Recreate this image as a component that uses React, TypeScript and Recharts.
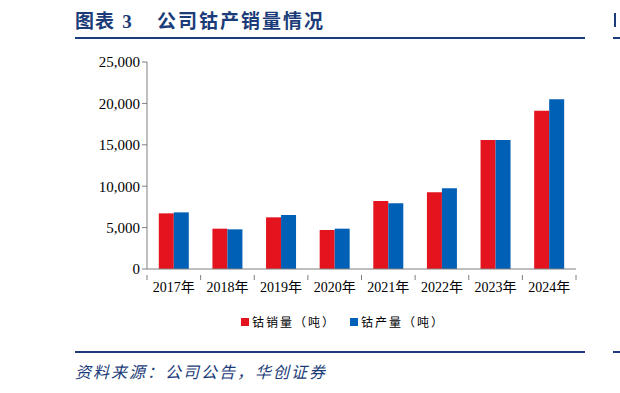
import React from 'react';
import { BarChart, Bar, XAxis, YAxis } from 'recharts';

const years = ['2017年', '2018年', '2019年', '2020年', '2021年', '2022年', '2023年', '2024年'];
const sales = [6720, 4870, 6240, 4710, 8210, 9260, 15580, 19120];
const output = [6840, 4790, 6520, 4870, 7930, 9740, 15580, 20490];
const yTicks = [0, 5000, 10000, 15000, 20000, 25000];

const data = years.map((year, i) => ({ year, sales: sales[i], output: output[i] }));

const navy = '#1b3c78';
const red = '#e3141e';
const blue = '#0060b5';
const axisGrey = '#7f7f7f';
const serif = '"Liberation Serif", "Times New Roman", "Noto Sans CJK SC", serif';
const cjk = '"Noto Sans CJK SC", sans-serif';

const fmt = (v: number) => v.toLocaleString('en-US');

// category label plus tick marks on the category boundaries
const YearTick = (props: any) => {
  const { x, y, payload, index, visibleTicksCount } = props;
  const half = payload.offset || 0;
  const last = index === visibleTicksCount - 1;
  return (
    <g>
      <line x1={x - half} x2={x - half} y1={y - 8} y2={y - 3} stroke={axisGrey} />
      {last && <line x1={x + half} x2={x + half} y1={y - 8} y2={y - 3} stroke={axisGrey} />}
      <text x={x} y={y + 9} textAnchor="middle" fontFamily={serif} fontSize={14} fill="#000">
        {payload.value}
      </text>
    </g>
  );
};

const App = () => {
  return (
    <div style={{ position: 'absolute', left: 0, top: 0, width: 620, height: 393, background: '#fff', overflow: 'hidden' }}>
      <div
        style={{
          position: 'absolute',
          left: 75,
          top: 6,
          fontFamily: cjk,
          fontWeight: 700,
          fontSize: 19,
          color: navy,
          whiteSpace: 'nowrap',
          letterSpacing: 1,
        }}
      >
        图表 <span style={{ fontFamily: serif, marginLeft: 2 }}>3</span>
      </div>
      <div
        style={{
          position: 'absolute',
          left: 157,
          top: 6,
          fontFamily: cjk,
          fontWeight: 700,
          fontSize: 19,
          color: navy,
          whiteSpace: 'nowrap',
          letterSpacing: 2,
        }}
      >
        公司钴产销量情况
      </div>
      <div style={{ position: 'absolute', left: 75, top: 37, width: 510, height: 2, background: navy }} />
      <div style={{ position: 'absolute', left: 613, top: 37, width: 7, height: 2, background: navy }} />
      <div style={{ position: 'absolute', left: 614, top: 13, width: 2, height: 14, background: navy }} />

      <div style={{ position: 'absolute', left: 0, top: 0 }}>
        <BarChart
          width={620}
          height={393}
          data={data}
          margin={{ top: 62, right: 44, left: 0, bottom: 94 }}
          barCategoryGap="22%"
          barGap={0}
        >
          <XAxis
            dataKey="year"
            height={30}
            axisLine={{ stroke: axisGrey }}
            tickLine={false}
            tick={<YearTick />}
            tickMargin={8}
            interval={0}
          />
          <YAxis
            width={147}
            domain={[0, 25000]}
            ticks={yTicks}
            tickFormatter={fmt}
            axisLine={{ stroke: axisGrey }}
            tickLine={{ stroke: axisGrey }}
            tickSize={5}
            tick={{ fontFamily: serif, fontSize: 15, fill: '#000' }}
            interval={0}
          />
          <Bar dataKey="sales" fill={red} isAnimationActive={false} />
          <Bar dataKey="output" fill={blue} isAnimationActive={false} />
        </BarChart>
      </div>

      {[
        { label: '钴销量（吨）', color: red, left: 241 },
        { label: '钴产量（吨）', color: blue, left: 350 },
      ].map((item) => (
        <div
          key={item.label}
          style={{
            position: 'absolute',
            left: item.left,
            top: 313,
            display: 'flex',
            alignItems: 'center',
            fontFamily: cjk,
            fontSize: 12,
            color: '#000',
            letterSpacing: 2,
            whiteSpace: 'nowrap',
          }}
        >
          <span style={{ width: 8, height: 8, background: item.color, marginRight: 3, display: 'inline-block' }} />
          {item.label}
        </div>
      ))}

      <div style={{ position: 'absolute', left: 75, top: 351, width: 510, height: 2, background: navy }} />
      <div style={{ position: 'absolute', left: 613, top: 351, width: 7, height: 2, background: navy }} />
      <div
        style={{
          position: 'absolute',
          left: 75,
          top: 359,
          fontFamily: cjk,
          fontStyle: 'italic',
          fontSize: 16,
          color: navy,
          whiteSpace: 'nowrap',
          letterSpacing: 2,
        }}
      >
        资料来源：公司公告，华创证券
      </div>
    </div>
  );
};

export default App;
